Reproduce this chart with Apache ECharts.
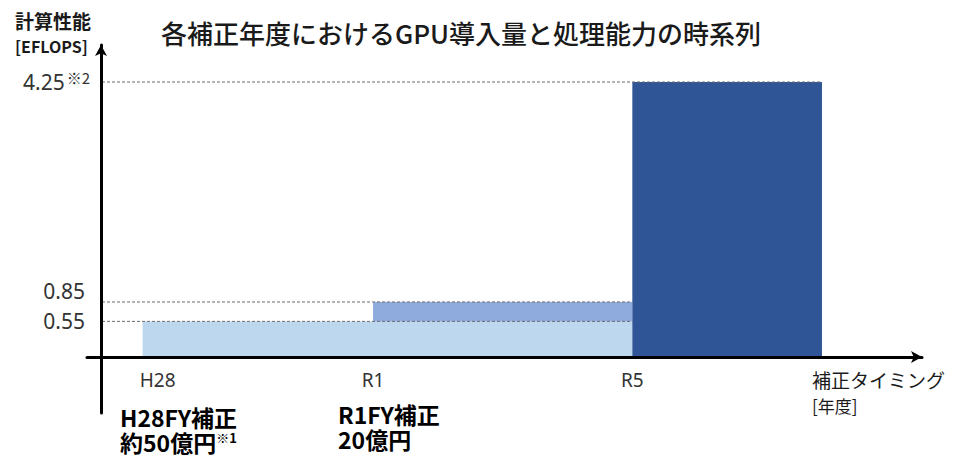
<!DOCTYPE html>
<html>
<head>
<meta charset="utf-8">
<script src="https://cdn.jsdelivr.net/npm/echarts@6.0.0/dist/echarts.min.js"></script>
<style>
  html, body { margin: 0; padding: 0; background: #fff; }
  #chart { width: 957px; height: 457px; }
</style>
</head>
<body>
<div id="chart"></div>
<script>
// GPU導入量と処理能力の時系列 — step blocks drawn with a custom series.
var periods = ['H28', 'R1', 'R5'];
// position of each budget on the (non-linear) timeline
var periodStart = [5.2, 34, 66.4];
// capacity [EFLOPS] of each block: from, to
var capBase = [0, 0.55, 0];
var capTop = [0.55, 0.85, 4.25];
// when each block is retired / replaced
var periodEnd = [66.4, 66.4, 90.1];

var yTicks = [0.55, 0.85, 4.25];
var yTickNotes = ['', '', '※2'];
var yTickRaised = [false, true, false];   // label nudged up to clear its neighbour

var budgetTitle = ['H28FY補正', 'R1FY補正'];
var budgetAmount = ['約50億円', '20億円'];
var budgetNote = ['※1', ''];

var blockColors = ['#BDD7EE', '#8FAADC', '#2F5597'];
var LATIN = '"Noto Sans", "Noto Sans CJK JP", sans-serif';
var JP = '"Noto Sans CJK JP", "Noto Sans", sans-serif';

var blocks = [];
for (var i = 0; i < periods.length; i++) {
    blocks.push([periodStart[i], periodEnd[i], capBase[i], capTop[i]]);
}

function renderBlock(params, api) {
    var x0 = api.value(0), x1 = api.value(1), y0 = api.value(2), y1 = api.value(3);
    var tl = api.coord([x0, y1]);
    var br = api.coord([x1, y0]);
    var ax = api.coord([0, y1]);
    return {
        type: 'group',
        children: [{
            type: 'rect',
            shape: { x: tl[0], y: tl[1], width: br[0] - tl[0], height: br[1] - tl[1] },
            style: { fill: blockColors[params.dataIndex] },
            z2: 0
        }, {
            type: 'line',
            shape: { x1: ax[0] + 1, y1: tl[1], x2: br[0], y2: tl[1] },
            style: { stroke: '#6b6b6b', lineWidth: 1, lineDash: [3, 2] },
            z2: 10
        }]
    };
}

function tickIndex(v) {
    for (var i = 0; i < yTicks.length; i++) {
        if (Math.abs(yTicks[i] - v) < 1e-6) return i;
    }
    return -1;
}

function yLabel(v) {
    var i = tickIndex(v);
    if (i < 0 || yTickRaised[i]) return '';
    if (yTickNotes[i]) return '{v|' + yTicks[i].toFixed(2) + '}{s|' + yTickNotes[i] + '}';
    return '{p|' + yTicks[i].toFixed(2) + '}';
}

function yLabelRaised(v) {
    var i = tickIndex(v);
    if (i < 0 || !yTickRaised[i]) return '';
    return yTicks[i].toFixed(2);
}

function xLabel(v) {
    for (var i = 0; i < periodStart.length; i++) {
        if (Math.abs(periodStart[i] - v) < 1e-6) {
            return i === 0 ? '{first|' + periods[i] + '}' : periods[i];
        }
    }
    return '';
}

var graphics = [{
    type: 'text', x: 461, y: 32,
    style: { text: '各補正年度におけるGPU導入量と処理能力の時系列', font: '500 26px ' + JP,
        fill: '#1a1a1a', align: 'center', verticalAlign: 'middle' }
}, {
    type: 'text', x: 15, y: 20,
    style: { text: '計算性能', font: 'bold 19px ' + JP, fill: '#1a1a1a', verticalAlign: 'middle' }
}, {
    type: 'text', x: 15, y: 46,
    style: { text: '[EFLOPS]', font: 'bold 16px ' + JP, fill: '#1a1a1a', verticalAlign: 'middle' }
}, {
    type: 'text', x: 812, y: 379,
    style: { text: '補正タイミング', font: '19px ' + JP, fill: '#1a1a1a', verticalAlign: 'middle' }
}, {
    type: 'text', x: 812, y: 405,
    style: { text: '[年度]', font: '17px ' + JP, fill: '#1a1a1a', verticalAlign: 'middle' }
}];
var budgetX = [120, 338];
var budgetY = [417, 414];
for (var b = 0; b < budgetTitle.length; b++) {
    graphics.push({
        type: 'text', x: budgetX[b], y: budgetY[b],
        style: { text: budgetTitle[b], font: 'bold 23px ' + JP, fill: '#000', verticalAlign: 'middle' }
    });
    graphics.push({
        type: 'text', x: budgetX[b], y: budgetY[b] + 25,
        style: {
            text: '{a|' + budgetAmount[b] + '}' + (budgetNote[b] ? '{n|' + budgetNote[b] + '}' : ''),
            verticalAlign: 'middle',
            rich: {
                a: { font: 'bold 23px ' + JP, fill: '#000', lineHeight: 23 },
                n: { font: 'bold 13px ' + JP, fill: '#000', lineHeight: 15, verticalAlign: 'top' }
            }
        }
    });
}

var yAxisBase = {
    type: 'value', min: -0.866, max: 4.822,
    splitLine: { show: false },
    axisTick: { show: false }
};

var chart = echarts.init(document.getElementById('chart'), null, { renderer: 'svg' });
chart.setOption({
    animation: false,
    grid: { left: 87, right: 35, top: 45, bottom: 44, containLabel: false },
    xAxis: [{
        type: 'value', min: -1.75, max: 102.6,
        splitLine: { show: false },
        axisTick: { show: false },
        axisLabel: { show: false },
        axisLine: { onZero: true, lineStyle: { color: '#000', width: 3 },
            symbol: ['none', 'arrow'], symbolSize: [9, 11] },
        z: 5
    }, {
        // label-only axis sitting on the zero line
        type: 'value', min: -1.75, max: 102.6, position: 'bottom', offset: -56,
        splitLine: { show: false },
        axisTick: { show: false },
        axisLine: { show: false },
        axisLabel: {
            customValues: periodStart, formatter: xLabel, margin: 13, hideOverlap: false,
            color: '#333', fontSize: 19, fontFamily: LATIN,
            rich: { first: { fontSize: 19, fontFamily: LATIN, color: '#333', padding: [0, 0, 0, 30] } }
        }
    }],
    yAxis: [Object.assign({}, yAxisBase, {
        axisLine: { onZero: true, lineStyle: { color: '#000', width: 3 },
            symbol: ['none', 'arrow'], symbolSize: [9, 11] },
        axisLabel: {
            customValues: yTicks, formatter: yLabel, margin: -3, hideOverlap: false,
            rich: {
                v: { fontSize: 21, fontFamily: LATIN, color: '#333', lineHeight: 24 },
                p: { fontSize: 21, fontFamily: LATIN, color: '#333', lineHeight: 24, padding: [0, 5, 0, 0] },
                s: { fontSize: 15, fontFamily: JP, color: '#333', lineHeight: 17, verticalAlign: 'top',
                    padding: [0, 0, 0, 2] }
            }
        },
        z: 5
    }), Object.assign({}, yAxisBase, {
        // label-only axis for the tick label that sits above its line
        position: 'left',
        axisLine: { show: false },
        axisLabel: {
            customValues: yTicks, formatter: yLabelRaised, margin: 2, hideOverlap: false,
            verticalAlign: 'bottom', color: '#333', fontSize: 21, fontFamily: LATIN
        }
    })],
    series: [{
        type: 'custom',
        renderItem: renderBlock,
        data: blocks,
        encode: { x: [0, 1], y: [2, 3] },
        z: 2
    }],
    graphic: graphics
});
</script>
</body>
</html>
